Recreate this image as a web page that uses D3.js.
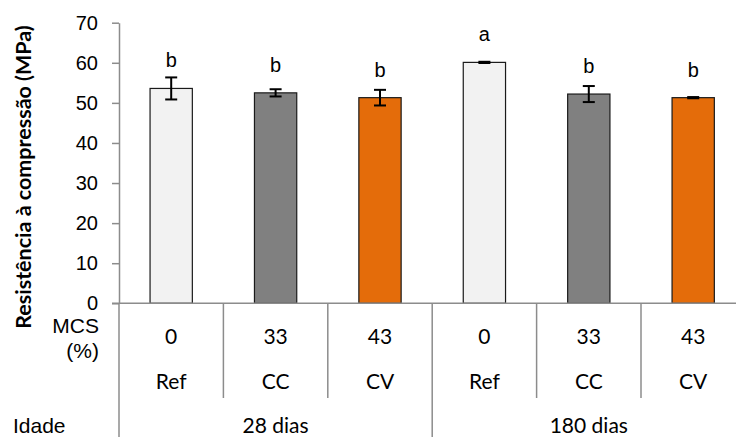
<!DOCTYPE html>
<html>
<head>
<meta charset="utf-8">
<script src="https://cdn.jsdelivr.net/npm/d3@7"></script>
<style>
  html, body { margin: 0; padding: 0; background: #fff; }
  svg { display: block; }
</style>
</head>
<body>
<svg id="chart" width="736" height="437"></svg>
<script>
// Compressive strength (MPa) by mix and curing age
const mcs = ["0", "33", "43", "0", "33", "43"];
const mixes = ["Ref", "CC", "CV", "Ref", "CC", "CV"];
const ages = ["28 dias", "180 dias"];
const means = [53.6, 52.5, 51.3, 60.1, 52.2, 51.3];
const errors = [2.75, 0.9, 1.95, 0.15, 2.0, 0.15];
const letters = ["b", "b", "b", "a", "b", "b"];
const yTicks = [0, 10, 20, 30, 40, 50, 60, 70];

const colorByMix = { "Ref": "#f2f2f2", "CC": "#808080", "CV": "#e46c0a" };

const W = 736, H = 437;
const plotLeft = 119, plotRight = 745.4, plotTop = 22.7, plotBottom = 303.3;
const axisColor = "#8c8c8c";
const catFont = "Lato, 'Open Sans', sans-serif";
const arial = "'Liberation Sans', Arial, sans-serif";

const svg = d3.select("#chart");

const x = d3.scaleBand()
  .domain(d3.range(means.length))
  .range([plotLeft, plotRight])
  .paddingInner(0.595)
  .paddingOuter(0.2975);
const step = x.step();
const y = d3.scaleLinear().domain([0, 70]).range([plotBottom, plotTop]);

// y axis
const yAxis = d3.axisLeft(y).tickValues(yTicks).tickSize(7).tickSizeOuter(0).tickPadding(14);
const gy = svg.append("g").attr("transform", `translate(${plotLeft},0)`).call(yAxis);
gy.select(".domain").attr("stroke", axisColor).attr("stroke-width", 1.5);
gy.selectAll(".tick line").attr("stroke", axisColor).attr("stroke-width", 1.5);
gy.selectAll(".tick text")
  .attr("font-family", arial).attr("font-size", 20).attr("fill", "#000");

// bars
svg.append("g").selectAll("rect").data(means).join("rect")
  .attr("x", (d, i) => x(i))
  .attr("y", d => y(d))
  .attr("width", x.bandwidth())
  .attr("height", d => y(0) - y(d))
  .attr("fill", (d, i) => colorByMix[mixes[i]])
  .attr("stroke", "#1a1a1a")
  .attr("stroke-width", 1.2);

// error bars
const eb = svg.append("g").attr("stroke", "#000").attr("stroke-width", 2);
means.forEach((m, i) => {
  const cx = x(i) + x.bandwidth() / 2;
  const y1 = y(m + errors[i]), y2 = y(m - errors[i]);
  eb.append("line").attr("x1", cx).attr("x2", cx).attr("y1", y1).attr("y2", y2);
  eb.append("line").attr("x1", cx - 6).attr("x2", cx + 6).attr("y1", y1).attr("y2", y1);
  eb.append("line").attr("x1", cx - 6).attr("x2", cx + 6).attr("y1", y2).attr("y2", y2);
});

// significance letters
svg.append("g").selectAll("text").data(letters).join("text")
  .attr("x", (d, i) => x(i) + x.bandwidth() / 2)
  .attr("y", (d, i) => y(means[i]) - 21)
  .attr("text-anchor", "middle")
  .attr("font-family", arial).attr("font-size", 20)
  .text(d => d);

// x axis baseline
svg.append("line")
  .attr("x1", plotLeft - 7).attr("x2", plotRight)
  .attr("y1", plotBottom).attr("y2", plotBottom)
  .attr("stroke", axisColor).attr("stroke-width", 1.5);

// category separators: short between mixes, long between ages
const grid = svg.append("g").attr("stroke", axisColor).attr("stroke-width", 1.5);
for (let k = 0; k <= means.length; k++) {
  const xx = plotLeft + k * step;
  const long = k % 3 === 0;
  grid.append("line")
    .attr("x1", xx).attr("x2", xx)
    .attr("y1", plotBottom).attr("y2", long ? H : 398);
}

// category labels
const catG = svg.append("g").attr("font-family", catFont).attr("font-size", 21)
  .attr("text-anchor", "middle").attr("fill", "#000");
mcs.forEach((t, i) => {
  catG.append("text").attr("x", x(i) + x.bandwidth() / 2).attr("y", 335)
    .attr("dominant-baseline", "central").text(t);
});
mixes.forEach((t, i) => {
  catG.append("text").attr("x", x(i) + x.bandwidth() / 2).attr("y", 380)
    .attr("dominant-baseline", "central").text(t);
});
ages.forEach((t, g) => {
  catG.append("text").attr("x", plotLeft + (g * 3 + 1.5) * step).attr("y", 424.5)
    .attr("dominant-baseline", "central").text(t);
});

// row headers
const hdr = svg.append("g").attr("font-family", arial).attr("font-size", 21).attr("fill", "#000");
hdr.append("text").attr("x", 99).attr("y", 325).attr("text-anchor", "end")
  .attr("dominant-baseline", "central").text("MCS");
hdr.append("text").attr("x", 99).attr("y", 350).attr("text-anchor", "end")
  .attr("dominant-baseline", "central").text("(%)");
hdr.append("text").attr("x", 13).attr("y", 425)
  .attr("dominant-baseline", "central").text("Idade");

// y axis title
svg.append("text")
  .attr("transform", `translate(23,177) rotate(-90)`)
  .attr("text-anchor", "middle").attr("dominant-baseline", "central")
  .attr("font-family", catFont).attr("font-weight", "bold").attr("font-size", 21.5)
  .text("Resistência à compressão (MPa)");
</script>
</body>
</html>
